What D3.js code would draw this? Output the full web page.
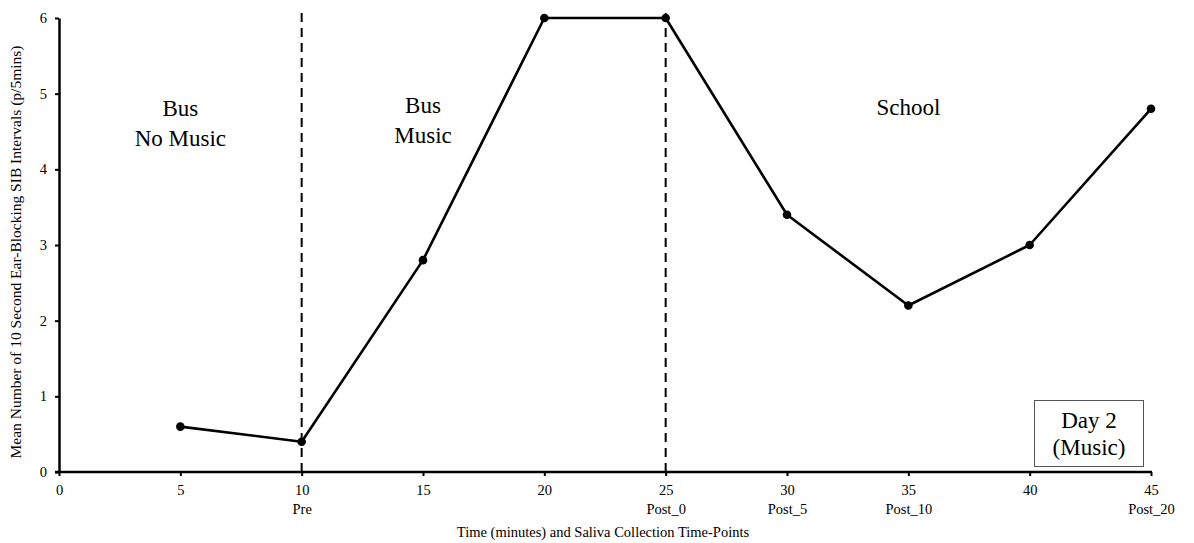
<!DOCTYPE html>
<html><head><meta charset="utf-8">
<script src="https://cdn.jsdelivr.net/npm/d3@7"></script>
<style>body{margin:0;background:#fff}svg{display:block}</style>
</head><body><svg id="c" width="1194" height="543"></svg>
<script>
const times = [5, 10, 15, 20, 25, 30, 35, 40, 45];
const values = [0.6, 0.4, 2.8, 6, 6, 3.4, 2.2, 3, 4.8];
const xTicks = [0, 5, 10, 15, 20, 25, 30, 35, 40, 45];
const timePointLabels = {10: "Pre", 25: "Post_0", 30: "Post_5", 35: "Post_10", 45: "Post_20"};
const yTicks = [0, 1, 2, 3, 4, 5, 6];
const phaseBoundaries = [10, 25];
const phaseLabels = [{x: 5, y: 4.7, lines: ["Bus", "No Music"]}, {x: 15, y: 4.75, lines: ["Bus", "Music"]}, {x: 35, y: 4.72, lines: ["School"]}];

const FONT = "'Liberation Serif', 'Times New Roman', Times, serif";
const svg = d3.select("#c");
const x = d3.scaleLinear().domain([0, 45]).range([59, 1151]);
const y = d3.scaleLinear().domain([0, 6]).range([472, 18]);

// dashed phase lines
svg.selectAll(".ph").data(phaseBoundaries).join("line")
  .attr("x1", d => x(d)).attr("x2", d => x(d))
  .attr("y1", y(0)).attr("y2", y(6) - 5)
  .attr("stroke", "#000").attr("stroke-width", 2).attr("stroke-dasharray", "9,6");

// axes
const xAxis = d3.axisBottom(x).tickValues(xTicks).tickSize(4).tickSizeOuter(0).tickFormat(d3.format("d"));
const gx = svg.append("g").attr("transform", `translate(0,${y(0)})`).call(xAxis);
gx.select(".domain").attr("stroke-width", 2.5).attr("d", `M${x(0) - 4},0H${x(45) + 1}`);
gx.selectAll(".tick line").attr("stroke-width", 2);
gx.selectAll(".tick text").attr("font-size", 14.5).attr("y", 8).attr("dy", "1em").style("font-family", FONT);
gx.selectAll(".tick").filter(d => timePointLabels[d]).append("text")
  .attr("y", 27).attr("dy", "1em").attr("text-anchor", "middle").attr("font-size", 14.5)
  .style("font-family", FONT).attr("fill", "#000").text(d => timePointLabels[d]);

const yAxis = d3.axisLeft(y).tickValues(yTicks).tickSize(4).tickSizeOuter(0).tickFormat(d3.format("d"));
const gy = svg.append("g").attr("transform", `translate(${x(0)},0)`).call(yAxis);
gy.select(".domain").attr("stroke-width", 2.5);
gy.selectAll(".tick line").attr("stroke-width", 2);
gy.selectAll(".tick text").attr("font-size", 14.5).attr("x", -12).style("font-family", FONT);

// axis titles
svg.append("text").attr("x", 603).attr("y", 537).attr("text-anchor", "middle").attr("font-size", 14.5)
  .style("font-family", FONT).text("Time (minutes) and Saliva Collection Time-Points");
svg.append("text").attr("transform", "translate(21,252) rotate(-90)").attr("text-anchor", "middle").attr("font-size", 15.5)
  .style("font-family", FONT).text("Mean Number of 10 Second Ear-Blocking SIB Intervals (p/5mins)");

// line
const pts = times.map((t, i) => [t, values[i]]);
svg.append("path").datum(pts)
  .attr("d", d3.line().x(d => x(d[0])).y(d => y(d[1])))
  .attr("fill", "none").attr("stroke", "#000").attr("stroke-width", 2.6).attr("stroke-linejoin", "round");
svg.selectAll(".pt").data(pts).join("circle")
  .attr("cx", d => x(d[0])).attr("cy", d => y(d[1])).attr("r", 4.3).attr("fill", "#000");

// phase labels
phaseLabels.forEach(p => {
  const t = svg.append("text").attr("text-anchor", "middle").attr("font-size", 23)
    .style("font-family", FONT).attr("x", x(p.x)).attr("y", y(p.y));
  p.lines.forEach((l, i) => t.append("tspan").attr("x", x(p.x)).attr("dy", i ? 30 : 0).text(l));
});

// Day box
svg.append("rect").attr("x", 1034.5).attr("y", 400.5).attr("width", 109).attr("height", 66)
  .attr("fill", "#fff").attr("stroke", "#555").attr("stroke-width", 1);
const dt = svg.append("text").attr("text-anchor", "middle").attr("font-size", 23).style("font-family", FONT)
  .attr("x", 1089).attr("y", 428);
dt.append("tspan").attr("x", 1089).text("Day 2");
dt.append("tspan").attr("x", 1089).attr("dy", 27).text("(Music)");
</script></body></html>
